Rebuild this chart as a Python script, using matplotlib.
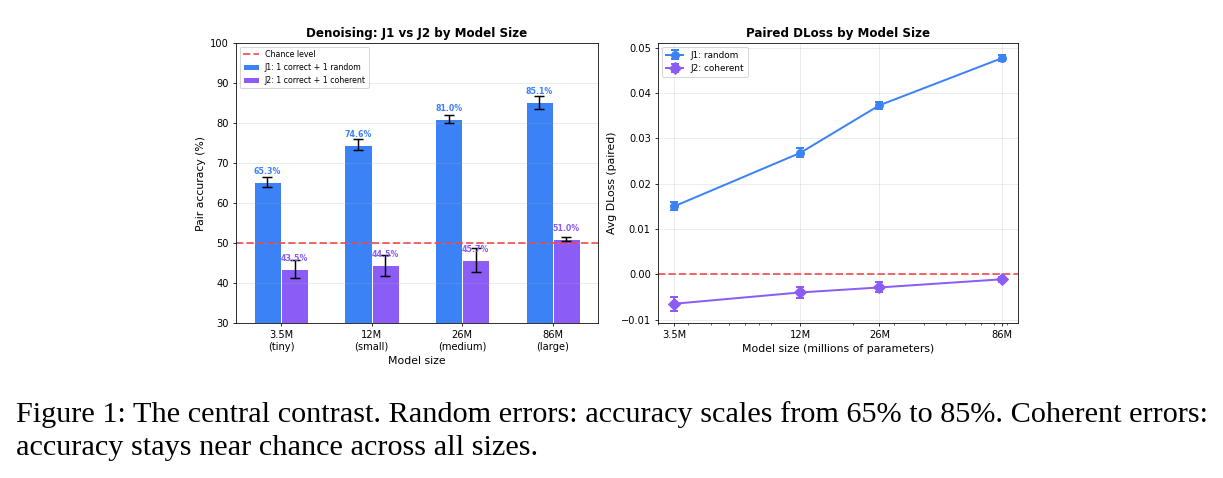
"""Denoising accuracy and paired DLoss by model size, with figure caption."""

import matplotlib

matplotlib.use("Agg")
import matplotlib.pyplot as plt
import numpy as np
from matplotlib.ticker import NullFormatter

# Data
sizes = ["3.5M\n(tiny)", "12M\n(small)", "26M\n(medium)", "86M\n(large)"]
params_m = [3.5, 12, 26, 86]
param_labels = ["3.5M", "12M", "26M", "86M"]

j1_acc = [65.3, 74.6, 81.0, 85.1]
j1_acc_err = [1.2, 1.3, 1.0, 1.6]
j2_acc = [43.5, 44.5, 45.7, 51.0]
j2_acc_err = [2.3, 2.6, 3.0, 0.5]

j1_dloss = [0.0150, 0.0268, 0.0373, 0.0477]
j1_dloss_err = [0.0009, 0.0010, 0.0008, 0.0006]
j2_dloss = [-0.0065, -0.0040, -0.0029, -0.0011]
j2_dloss_err = [0.0015, 0.0012, 0.0011, 0.0006]

caption = [
    "Figure 1: The central contrast. Random errors: accuracy scales from 65% to 85%. Coherent errors:",
    "accuracy stays near chance across all sizes.",
]

BLUE = "#3B82F6"
PURPLE = "#8B5CF6"
RED = "#EF4444"

DPI = 71
fig = plt.figure(figsize=(1223 / DPI, 478 / DPI), dpi=DPI)

# Left: pair accuracy bars
ax1 = fig.add_axes([0.1927, 0.3236, 0.2963, 0.5871])
x = np.arange(len(sizes))
width = 0.3
ax1.axhline(50, color=RED, linestyle="--", linewidth=2, alpha=0.8, label="Chance level")
b1 = ax1.bar(x - width / 2, j1_acc, width, yerr=j1_acc_err, capsize=5, color=BLUE,
             edgecolor="white", linewidth=1, label="J1: 1 correct + 1 random",
             error_kw={"elinewidth": 1.5, "capthick": 1.5})
b2 = ax1.bar(x + width / 2, j2_acc, width, yerr=j2_acc_err, capsize=5, color=PURPLE,
             edgecolor="white", linewidth=1, label="J2: 1 correct + 1 coherent",
             error_kw={"elinewidth": 1.5, "capthick": 1.5})
for bars, vals, color in [(b1, j1_acc, BLUE), (b2, j2_acc, PURPLE)]:
    for rect, v in zip(bars, vals):
        ax1.text(rect.get_x() + rect.get_width() / 2, v + 1.5, f"{v:.1f}%",
                 ha="center", va="bottom", fontsize=8, fontweight="bold", color=color)
ax1.set_xticks(x)
ax1.set_xticklabels(sizes)
ax1.set_xlim(-0.5, 3.5)
ax1.set_ylim(30, 100)
ax1.set_xlabel("Model size", fontsize=11)
ax1.set_ylabel("Pair accuracy (%)", fontsize=11)
ax1.set_title("Denoising: J1 vs J2 by Model Size", fontsize=12, fontweight="bold")
ax1.legend(loc="upper left", fontsize=8)
ax1.grid(True, axis="y", alpha=0.3)

# Right: paired DLoss, log-scaled model size
ax2 = fig.add_axes([0.5378, 0.3236, 0.2948, 0.5871])
ax2.errorbar(params_m, j1_dloss, yerr=j1_dloss_err, color=BLUE, marker="o", markersize=8,
             linewidth=2, capsize=4, capthick=2, label="J1: random")
ax2.errorbar(params_m, j2_dloss, yerr=j2_dloss_err, color=PURPLE, marker="D", markersize=8,
             linewidth=2, capsize=4, capthick=2, label="J2: coherent")
ax2.axhline(0, color=RED, linestyle="--", linewidth=2, alpha=0.8)
ax2.set_xscale("log")
ax2.set_xticks(params_m)
ax2.set_xticklabels(param_labels)
ax2.xaxis.set_minor_formatter(NullFormatter())
ax2.set_xlabel("Model size (millions of parameters)", fontsize=11)
ax2.set_ylabel("Avg DLoss (paired)", fontsize=11)
ax2.set_title("Paired DLoss by Model Size", fontsize=12, fontweight="bold")
ax2.legend(loc="upper left", fontsize=9)
ax2.grid(True, alpha=0.3)

for ax in (ax1, ax2):
    ax.tick_params(labelsize=10)

# Caption below the panels, in a Times-like serif
fig.text(16 / 1223, 1 - 421.7 / 478, caption[0], family="Liberation Serif", fontsize=30.7,
         ha="left", va="baseline")
fig.text(16 / 1223, 1 - 455 / 478, caption[1], family="Liberation Serif", fontsize=30.7,
         ha="left", va="baseline")

fig.savefig("out.png", dpi=DPI)
plt.close(fig)
